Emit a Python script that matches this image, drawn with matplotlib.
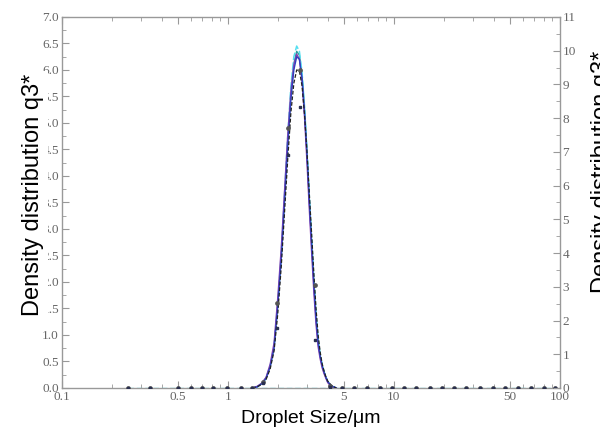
import matplotlib
matplotlib.use("Agg")
import matplotlib.pyplot as plt
from matplotlib.ticker import LogLocator, FixedLocator, MultipleLocator, NullFormatter

# ---- data ----
curve_x = [1.4, 1.5, 1.6, 1.7, 1.8, 1.9, 2.0, 2.1, 2.2, 2.3, 2.4, 2.5, 2.6, 2.7, 2.8,
           2.9, 3.0, 3.1, 3.2, 3.3, 3.4, 3.5, 3.6, 3.7, 3.8, 3.9, 4.0, 4.2, 4.5]
q3_blue = [0, 0.02, 0.08, 0.18, 0.40, 0.75, 1.55, 2.45, 3.55, 4.60, 5.45, 6.00, 6.25, 6.20, 5.85,
           5.20, 4.40, 3.50, 2.70, 1.95, 1.30, 0.85, 0.60, 0.42, 0.30, 0.20, 0.12, 0.04, 0]
q3_black = [0, 0.02, 0.07, 0.16, 0.36, 0.70, 1.40, 2.30, 3.35, 4.35, 5.20, 5.75, 6.00, 5.98, 5.70,
            5.15, 4.45, 3.65, 2.90, 2.15, 1.50, 1.00, 0.68, 0.46, 0.32, 0.21, 0.13, 0.05, 0]
q3_purple = [0, 0.03, 0.09, 0.20, 0.45, 0.85, 1.70, 2.65, 3.75, 4.80, 5.60, 6.10, 6.30, 6.20, 5.80,
             5.10, 4.25, 3.35, 2.55, 1.80, 1.20, 0.78, 0.55, 0.38, 0.27, 0.18, 0.10, 0.03, 0]
q3_cyan = [0, 0.02, 0.08, 0.18, 0.42, 0.80, 1.60, 2.55, 3.70, 4.80, 5.70, 6.25, 6.45, 6.35, 5.95,
           5.30, 4.50, 3.60, 2.80, 2.05, 1.40, 0.92, 0.64, 0.44, 0.31, 0.20, 0.12, 0.04, 0]
q3_teal = [0, 0.02, 0.08, 0.19, 0.41, 0.78, 1.58, 2.50, 3.62, 4.70, 5.55, 6.12, 6.35, 6.28, 5.90,
           5.25, 4.45, 3.55, 2.75, 2.00, 1.35, 0.88, 0.62, 0.43, 0.30, 0.20, 0.12, 0.04, 0]

# class mid sizes (µm) where measured points are marked
class_mid = [0.25, 0.34, 0.50, 0.60, 0.70, 0.82, 0.99, 1.20, 1.40, 1.64, 1.97, 2.32, 2.74,
             3.35, 4.11, 4.86, 5.73, 6.85, 8.22, 9.72, 11.46, 13.69, 16.43, 19.44, 22.91,
             27.39, 32.86, 39.34, 46.83, 55.78, 66.83, 79.80, 93.5]
pts_a = [0, 0, 0, 0, 0, 0, 0, 0, 0, 0.12, 1.60, 4.90, 6.00, 1.95, 0.04, 0, 0, 0, 0, 0, 0,
         0, 0, 0, 0, 0, 0, 0, 0, 0, 0, 0, 0]
pts_b = [0, 0, 0, 0, 0, 0, 0, 0, 0, 0.10, 1.13, 4.40, 5.30, 0.90, 0.02, 0, 0, 0, 0, 0, 0,
         0, 0, 0, 0, 0, 0, 0, 0, 0, 0, 0, 0]

x_ticks = [0.1, 0.5, 1, 5, 10, 50, 100]
x_ticklabels = ["0.1", "0.5", "1", "5", "10", "50", "100"]
left_ticks = [i * 0.5 for i in range(15)]
left_ticklabels = ["%.1f" % v for v in left_ticks]
right_ticks = list(range(12))

# ---- figure ----
fig = plt.figure(figsize=(6.0, 4.29), dpi=100)
ax = fig.add_axes([0.103, 0.0956, 0.830, 0.865])

ax.plot(class_mid, [0] * len(class_mid), color="#5fd8e8", lw=1.0, ls=(0, (4, 2)), zorder=2)
ax.plot(curve_x, q3_teal, color="#2a9a9a", lw=1.0, zorder=3)
ax.plot(curve_x, q3_cyan, color="#55dff0", lw=1.1, ls=(0, (5, 1.5)), zorder=3)
ax.plot(curve_x, q3_purple, color="#8a3fb0", lw=1.0, zorder=3)
ax.plot(curve_x, q3_blue, color="#3040c0", lw=1.0, zorder=4)
ax.plot(curve_x, q3_black, color="#222222", lw=0.9, ls=(0, (3, 1.5)), zorder=4)
ax.plot(class_mid, pts_a, ls="none", marker="o", ms=2.4, color="#555555", zorder=5)
ax.plot(class_mid, pts_b, ls="none", marker="s", ms=2.0, color="#2a3050", zorder=5)

ax.set_xscale("log")
ax.set_xlim(0.1, 100)
ax.set_ylim(0, 7.0)
ax.xaxis.set_major_locator(FixedLocator(x_ticks))
ax.set_xticklabels(x_ticklabels)
ax.xaxis.set_minor_locator(LogLocator(base=10, subs=(2, 3, 4, 6, 7, 8, 9)))
ax.xaxis.set_minor_formatter(NullFormatter())
ax.set_yticks(left_ticks)
ax.set_yticklabels(left_ticklabels)
ax.yaxis.set_minor_locator(MultipleLocator(0.25))

tick_col = "#666666"
for sp in ax.spines.values():
    sp.set_color("#999999")
    sp.set_linewidth(1.0)
ax.tick_params(which="both", direction="in", top=True, right=False, colors="#999999",
               labelcolor=tick_col, labelsize=9.5, pad=2)
ax.tick_params(which="major", length=5)
ax.tick_params(which="minor", length=3)
for lab in ax.get_xticklabels() + ax.get_yticklabels():
    lab.set_family("Liberation Serif")

ax2 = ax.twinx()
ax2.set_ylim(0, 11)
ax2.set_yticks(right_ticks)
ax2.yaxis.set_minor_locator(MultipleLocator(0.5))
ax2.tick_params(which="both", direction="in", colors="#999999", labelcolor=tick_col,
                labelsize=9.5, pad=2)
ax2.tick_params(which="major", length=5)
ax2.tick_params(which="minor", length=3)
for sp in ax2.spines.values():
    sp.set_visible(False)
for lab in ax2.get_yticklabels():
    lab.set_family("Liberation Serif")

ax.set_xlabel("Droplet Size/μm", family="Liberation Sans", fontsize=14, labelpad=5)

fig.text(0.055, 0.545, "Density distribution q3*", rotation=90, ha="center", va="center",
         family="Liberation Sans", fontsize=17, color="black",
         bbox=dict(facecolor="white", edgecolor="none", pad=2.5), zorder=10)
fig.text(1.003, 0.60, "Density distribution q3*", rotation=90, ha="center", va="center",
         family="Liberation Sans", fontsize=17, color="black", zorder=10)

fig.savefig("out.png", dpi=100, facecolor="white")
